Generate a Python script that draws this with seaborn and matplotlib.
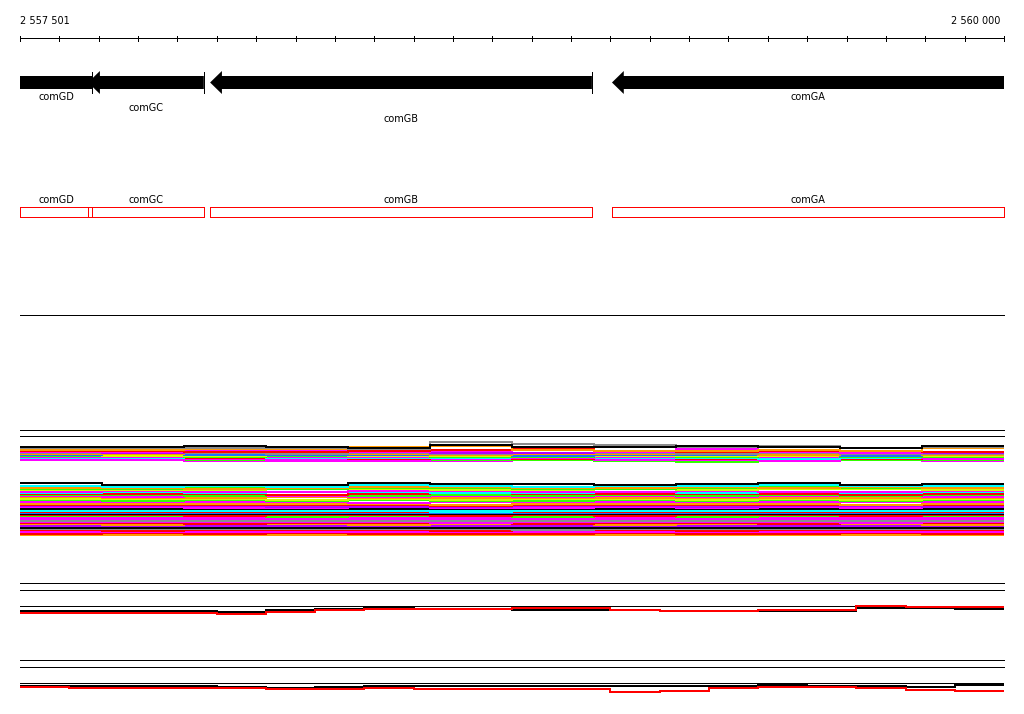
import numpy as np
import pandas as pd
import seaborn as sns
import matplotlib
matplotlib.use("Agg")
import matplotlib.pyplot as plt
from matplotlib.patches import Polygon, Rectangle

sns.set_theme(style="white")
plt.rcParams['font.family'] = ['DejaVu Sans']
plt.rcParams['text.color'] = 'black'
plt.rcParams['lines.antialiased'] = False

# view window (bp)
view_start = 2557500
view_end = 2560000
first_label = 2557501

# genes (all on minus strand)
gene_names = ['comGD', 'comGC', 'comGB', 'comGA']
gene_starts = [2557380, 2557673, 2557983, 2559004]
gene_ends = [2557683, 2557967, 2558953, 2560150]
gene_label_row = [0, 1, 2, 0]

# colour keys for the coverage lines
palette = {
    'black': '#000000', 'gray': '#8c8c8c', 'red': '#ff0000', 'orange': '#ff9900',
    'magenta': '#ff00ff', 'purple': '#b400ff', 'blue': '#1e6eff',
    'ygreen': '#ccff00', 'green': '#33ff00', 'cyan': '#00ffff',
}

# coverage per sample, 12 bins over the window - upper group
upper_colors = ['black', 'gray', 'orange', 'red', 'magenta', 'purple', 'gray', 'orange',
                'blue', 'ygreen', 'green', 'magenta', 'cyan', 'red', 'magenta', 'green', 'magenta']
upper_depth = [
    [93.5, 93, 94, 93, 92, 95, 93.5, 93, 94.5, 93.5, 92.5, 94.5],
    [92, 92, 92.5, 92, 91.5, 98, 96, 95, 93, 94, 92.5, 93],
    [90, 90, 91, 91, 93, 94, 90, 89.5, 89, 90, 89, 92],
    [89, 89, 88, 88, 89, 90, 91, 89, 88, 89, 89, 88],
    [88, 88, 89, 89, 88, 89, 90, 88, 91, 88, 87, 88],
    [88, 87, 88, 88, 88, 87, 87, 88, 89, 88, 89, 87],
    [87, 87, 87, 86, 87, 86, 87, 87, 86, 87, 86, 86],
    [86, 86, 87, 87, 86, 85, 86, 86, 86, 85, 86, 85],
    [85, 86, 85, 85, 85, 86, 84, 85, 85, 86, 84, 85],
    [85, 84, 84, 85, 84, 84, 85, 84, 84, 84, 85, 84],
    [84, 84, 83, 84, 84, 83, 83, 84, 83, 84, 83, 83],
    [83, 83, 84, 83, 83, 83, 82, 83, 84, 83, 84, 82],
    [82, 82, 83, 82, 82, 82, 82, 82, 82, 81, 82, 83],
    [82, 83, 82, 82, 81, 82, 81, 82, 81, 82, 81, 82],
    [81, 80, 81, 80, 80, 81, 81, 80, 81, 80, 81, 81],
    [81, 80, 80, 81, 80, 80, 80, 79, 78, 80, 80, 80],
    [80, 80, 79, 79, 79, 79, 80, 80, 80, 79, 80, 79],
]

# coverage per sample - lower group
lower_colors = ['black', 'cyan', 'orange', 'green', 'ygreen', 'magenta', 'cyan', 'red',
                'green', 'magenta', 'orange', 'ygreen', 'green', 'magenta', 'orange', 'red',
                'purple', 'magenta', 'black', 'cyan', 'cyan', 'red', 'blue', 'black', 'red',
                'green', 'magenta', 'magenta', 'gray', 'magenta', 'red', 'orange', 'purple',
                'black', 'gray', 'red', 'magenta', 'red', 'orange']
lower_depth = [
    [57, 55, 55, 55, 57.5, 56.5, 56, 55.5, 56.5, 57.5, 55.5, 56],
    [54, 53, 54, 53, 55, 54.5, 53, 54, 54, 55, 54, 54.5],
    [52, 52, 51.5, 52, 53, 53, 52, 52.5, 53, 52, 53, 52],
    [51, 51, 52, 51, 52, 52, 51, 51, 52, 53, 52, 53],
    [50, 50, 50, 51, 51, 50, 50.5, 51, 50, 51, 51, 50],
    [48, 49, 48, 48, 49, 49, 48, 48, 49, 48, 48, 49],
    [47.5, 48, 47, 48, 48, 47, 47.5, 48, 47, 48, 47, 48],
    [46, 46, 46, 45, 46, 47, 46, 46, 46, 46, 45, 46],
    [45, 45, 44.5, 45, 44, 45, 44, 45, 44, 45, 44, 45],
    [44, 43, 44, 44, 43.5, 44, 43, 44, 43, 44, 44, 43],
    [43, 42.5, 42, 43, 42, 42, 42, 42, 42.5, 42, 42, 42],
    [41, 41, 41, 40, 41, 40.5, 41, 41, 40, 41, 40, 41],
    [40, 39.5, 40, 39.5, 40, 39, 39.5, 40, 39, 40, 39.5, 40],
    [38, 38, 38.5, 38, 37.5, 38, 38, 38, 38, 38, 38.5, 38],
    [36.5, 36, 36, 36.5, 36, 35.5, 36.5, 36, 36, 36, 35.5, 36],
    [35.5, 35, 35, 35, 35, 34.5, 35, 35.5, 35, 35, 35, 35],
    [34, 34, 34, 33.5, 33, 33.5, 34, 34, 33, 34, 34, 33.5],
    [33, 33, 32.5, 32.5, 33, 32, 32.5, 33, 32, 33, 32.5, 33],
    [31.5, 31.5, 31.5, 31.5, 31.5, 31.5, 31.5, 31.5, 31.5, 31.5, 31.5, 31.5],
    [30.5, 30, 30, 30.5, 29.5, 29.5, 30, 30.5, 30, 30.5, 30, 30],
    [29.5, 29, 29, 29.5, 29, 28.5, 29, 29, 29, 29, 29, 29],
    [28.5, 28, 28.5, 28, 28.5, 28, 28, 28, 28.5, 28, 28, 28.5],
    [27.5, 27, 27, 27.5, 27, 27.5, 27, 27, 27, 27.5, 27, 27],
    [26.5, 26, 26, 26, 26.5, 26, 26, 26, 26.5, 26, 26, 26],
    [25, 25, 24.5, 25, 25, 24.5, 25, 24.5, 25, 25, 24.5, 25],
    [24, 24, 24, 23.5, 24, 24, 23.5, 24, 23.5, 24, 24, 24],
    [22.5, 22, 22, 22.5, 22, 22, 22.5, 22, 22, 22.5, 22, 22],
    [21.5, 21, 21.5, 21, 21, 21.5, 21, 21, 21.5, 21, 21.5, 21],
    [19.5, 19.5, 19, 19.5, 19, 19.5, 19, 19.5, 19, 19, 19.5, 19],
    [18, 18, 18.5, 18, 18, 17.5, 18, 18, 18, 18, 17.5, 18],
    [17, 17, 16.5, 17, 17, 17, 16.5, 17, 17, 16.5, 17, 17],
    [16, 15.5, 16, 16, 15.5, 16, 16, 15.5, 16, 16, 16, 15.5],
    [14.5, 14.5, 14, 14.5, 14, 14.5, 14, 14.5, 14, 14.5, 14, 14],
    [12.5, 12, 12, 12, 12.5, 12, 12, 12, 12, 12, 12.5, 12],
    [11, 11, 11.5, 11, 11, 11, 10.5, 11, 11, 11, 11, 11],
    [10, 9.5, 10, 10, 10, 9.5, 10, 10, 9.5, 10, 10, 10],
    [8.5, 8.5, 8, 8.5, 8, 8.5, 8.5, 8, 8.5, 8, 8.5, 8],
    [6.5, 7, 6, 7, 6.5, 6, 6.5, 7, 6, 6.5, 7, 6.5],
    [5.5, 5, 5.5, 5, 5, 5.5, 5, 5.5, 5, 5, 5.5, 5],
]

# two-sample tracks, 20 bins over the window
track_c_ref = 14
track_c_black = [9.5, 9.3, 8.7, 8.7, 8.0, 10.0, 11.3, 11.7, 11.5, 11.5, 10.5, 10.3, 10.3, 8.7, 9.5, 8.7, 8.7, 12.0, 12.0, 11.0]
track_c_red = [7.2, 7.3, 7.3, 7.3, 6.5, 7.7, 10.5, 11.3, 11.3, 11.3, 11.7, 11.7, 10.3, 9.5, 9.0, 10.3, 10.3, 14.5, 13.5, 12.7]
track_d_ref = 16.7
track_d_black = [14.0, 13.7, 13.7, 13.7, 13.5, 12.3, 13.0, 14.0, 14.0, 14.0, 14.0, 14.3, 14.3, 14.0, 14.0, 15.0, 14.0, 13.7, 12.7, 15.0]
track_d_red = [12.7, 12.0, 12.0, 12.0, 12.0, 11.0, 11.3, 12.3, 11.0, 11.0, 10.7, 10.8, 8.5, 9.0, 11.7, 13.0, 13.0, 12.5, 10.5, 9.5]

W, H = 1024, 714
X0, X1 = 20, 1004
FS = 7
PX = 0.72  # one pixel in points

fig = plt.figure(figsize=(W / 100, H / 100), dpi=100, facecolor='white')


def track_axes(top, bottom):
    ax = fig.add_axes([X0 / W, 1 - bottom / H, (X1 - X0) / W, (bottom - top) / H])
    ax.set_xlim(view_start, view_end)
    ax.axis('off')
    return ax


def bp_fmt(v):
    return f'{v:,}'.replace(',', ' ')


def long_frame(depths, names):
    edges = np.linspace(view_start, view_end, len(depths[0]) + 1)
    rows = []
    for name, vals in zip(names, depths):
        for p, d in zip(edges, list(vals) + [vals[-1]]):
            rows.append((name, p, d))
    return pd.DataFrame(rows, columns=['sample', 'pos', 'depth'])


# frame / separator lines
ax_bg = fig.add_axes([0, 0, 1, 1])
ax_bg.set_xlim(0, W)
ax_bg.set_ylim(H, 0)
ax_bg.axis('off')
ax_bg.hlines([315, 430, 436, 583, 590, 660, 667], X0, X1, color='black', lw=PX)

# ruler
ax_r = track_axes(10, 45)
ax_r.set_ylim(35, 0)
ax_r.hlines(28.3, view_start, view_end, color='black', lw=PX)
ax_r.vlines(np.arange(view_start, view_end + 1, 100), 25.8, 31, color='black', lw=PX, clip_on=False)
ax_r.text(first_label, 10.5, bp_fmt(first_label), ha='left', va='center', fontsize=FS, clip_on=False)
ax_r.text(view_end - 8, 10.5, bp_fmt(view_end), ha='right', va='center', fontsize=FS, clip_on=False)

# gene arrows
ax_g = track_axes(60, 130)
ax_g.set_ylim(70, 0)
head = 30
for name, s, e, row in zip(gene_names, gene_starts, gene_ends, gene_label_row):
    poly = [(s, 22.5), (s + head, 11), (s + head, 16), (e, 16), (e, 29),
            (s + head, 29), (s + head, 34)]
    ax_g.add_patch(Polygon(poly, closed=True, facecolor='black', edgecolor='none'))
    if e < view_end:
        ax_g.vlines(e, 12, 33, color='black', lw=PX)
    vs, ve = max(s, view_start), min(e, view_end)
    ax_g.text((vs + ve) / 2, 37.5 + row * 10.5, name, ha='center', va='center', fontsize=FS)

# gene boxes
ax_b = track_axes(190, 225)
ax_b.set_ylim(35, 0)
for name, s, e in zip(gene_names, gene_starts, gene_ends):
    vs, ve = max(s, view_start), min(e, view_end)
    ax_b.add_patch(Rectangle((vs, 17), ve - vs, 10, fill=False, edgecolor='red',
                             lw=PX, clip_on=False, antialiased=False))
    ax_b.text((vs + ve) / 2, 10, name, ha='center', va='center', fontsize=FS)

# multi-sample coverage
ax_cov = track_axes(425, 545)
ax_cov.set_ylim(-5, 115)
up_names = [f'u{i:02d}' for i in range(len(upper_depth))]
lo_names = [f'l{i:02d}' for i in range(len(lower_depth))]
df_cov = pd.concat([long_frame(upper_depth[::-1], up_names[::-1]),
                    long_frame(lower_depth[::-1], lo_names[::-1])])
cov_pal = {n: palette[c] for n, c in zip(up_names, upper_colors)}
cov_pal.update({n: palette[c] for n, c in zip(lo_names, lower_colors)})
sns.lineplot(data=df_cov, x='pos', y='depth', hue='sample', palette=cov_pal,
             estimator=None, drawstyle='steps-post', legend=False, lw=1.6 * PX, ax=ax_cov)
ax_cov.set_xlim(view_start, view_end)
ax_cov.axis('off')

# two-sample tracks
for top, ref, blk, red in [(595, track_c_ref, track_c_black, track_c_red),
                           (675, track_d_ref, track_d_black, track_d_red)]:
    ax_t = track_axes(top, top + 25)
    ax_t.set_ylim(0, 25)
    ax_t.axhline(ref, color='black', lw=PX)
    df_t = long_frame([blk, red], ['black', 'red'])
    sns.lineplot(data=df_t, x='pos', y='depth', hue='sample', hue_order=['black', 'red'],
                 palette={'black': 'black', 'red': 'red'}, estimator=None,
                 drawstyle='steps-post', legend=False, lw=2 * PX, ax=ax_t)
    ax_t.set_xlim(view_start, view_end)
    ax_t.axis('off')

fig.savefig('out.png', dpi=100, facecolor='white')
